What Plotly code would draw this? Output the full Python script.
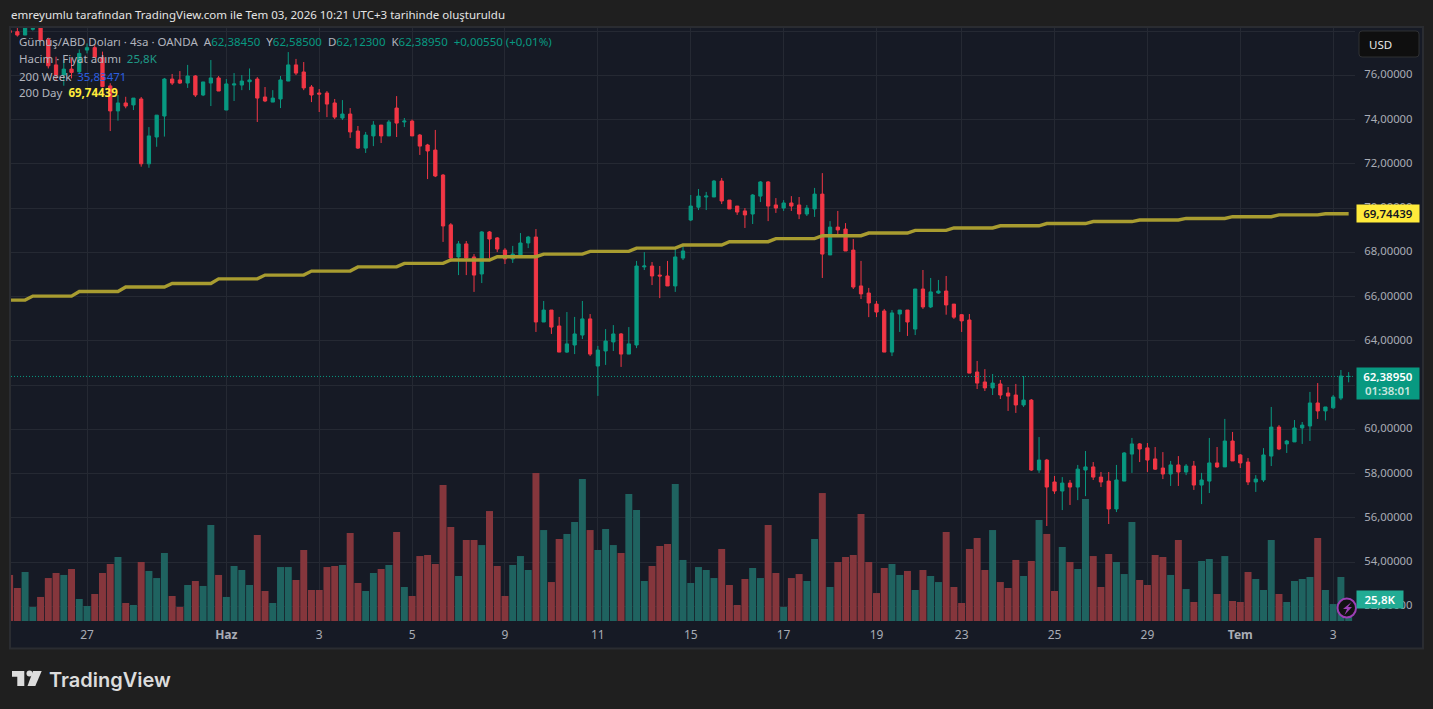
import plotly.graph_objects as go

# Silver / USD, 4h candles, OANDA
opens = [
    78.02,77.97,77.82,78.08,78.30,77.63,76.47,76.01,76.28,76.16,
    77.14,77.25,76.81,75.52,74.39,74.75,74.66,74.93,72.00,73.21,
    74.16,75.83,75.79,75.65,75.97,75.11,75.65,75.88,74.43,75.56,
    75.56,75.71,75.83,75.02,74.79,74.93,75.74,76.47,76.15,75.47,
    75.20,75.20,74.75,74.07,74.25,73.48,72.71,73.26,73.75,73.26,
    74.52,73.89,73.93,73.30,72.85,72.62,71.49,69.24,67.79,68.38,
    67.79,67.02,68.92,68.65,68.10,67.70,67.88,68.42,68.69,64.85,
    65.39,64.67,63.49,63.81,64.26,64.99,62.86,63.54,63.95,64.31,
    63.40,63.81,67.34,67.38,66.97,66.93,66.48,67.74,69.46,70.04,
    70.50,70.50,71.22,70.36,70.09,69.87,69.73,70.54,71.18,70.14,
    70.00,70.23,70.14,69.73,69.96,70.63,67.88,69.14,69.05,68.10,
    66.48,66.16,65.66,65.35,63.49,65.21,65.39,64.53,66.34,65.53,
    66.16,66.25,65.66,65.18,64.94,62.59,62.14,61.87,62.05,61.64,
    61.55,61.10,61.32,58.16,58.61,57.62,57.21,57.57,57.39,58.16,
    58.30,57.84,57.66,56.40,57.66,58.88,59.34,59.16,58.66,58.25,
    57.98,58.39,58.07,58.34,57.48,57.66,58.48,58.30,59.47,58.84,
    58.52,57.62,57.71,58.79,60.10,59.34,59.43,60.06,60.15,61.19,
    60.83,60.97,61.41,62.3845,
]
highs = [
    78.30,78.14,78.30,78.30,78.50,77.70,76.84,76.69,76.77,77.17,
    77.44,77.37,77.07,75.64,75.11,75.03,74.97,75.02,73.66,74.20,
    75.88,76.06,76.19,76.47,76.01,75.70,76.69,75.97,75.83,76.10,
    76.01,76.31,75.92,75.47,75.33,75.97,77.05,76.74,76.60,75.56,
    75.38,75.29,74.93,74.88,74.52,73.71,73.44,73.93,73.75,73.98,
    75.06,74.07,74.00,73.35,72.90,73.53,71.54,69.32,68.51,68.51,
    67.92,68.96,68.96,68.69,68.19,68.29,68.87,68.74,69.05,65.80,
    65.39,65.08,65.30,65.08,65.80,65.21,63.77,64.53,64.71,64.35,
    64.62,67.61,68.01,67.56,67.38,67.61,68.15,68.38,70.59,70.86,
    70.73,71.27,71.36,70.36,70.09,70.00,70.63,71.22,71.22,70.45,
    70.36,70.54,70.50,70.14,70.91,71.58,69.41,69.87,69.32,68.60,
    67.61,66.39,65.80,65.44,65.39,65.39,65.39,66.34,67.20,66.84,
    66.75,66.93,65.66,65.21,65.21,63.09,62.72,62.50,62.23,61.91,
    62.05,62.41,61.37,59.65,58.66,57.89,57.84,57.71,58.39,59.02,
    58.52,58.07,58.07,58.39,58.97,59.61,59.38,59.38,59.20,58.97,
    58.57,58.79,58.43,58.57,58.03,59.61,59.20,60.47,59.88,58.88,
    58.70,57.93,59.15,61.01,60.19,59.52,60.42,60.33,61.69,62.09,
    61.01,61.55,62.68,62.585,
]
lows = [
    77.44,77.75,77.82,78.02,77.57,76.31,75.79,75.53,75.86,76.06,
    76.99,76.81,75.46,73.48,73.95,74.51,74.43,71.87,71.82,72.77,
    73.23,75.56,75.61,75.43,75.02,75.06,74.61,75.29,74.43,74.84,
    75.33,75.33,73.89,74.79,74.79,74.52,75.74,76.01,75.33,74.79,
    74.34,74.11,74.02,73.98,73.17,72.67,72.49,72.80,72.94,73.26,
    73.21,73.66,73.26,72.40,71.31,71.40,68.47,67.56,66.97,66.97,
    66.21,66.61,67.74,68.01,67.47,67.52,67.83,68.19,64.40,64.85,
    64.31,63.49,63.45,63.40,64.08,63.31,61.51,62.91,63.54,62.82,
    63.40,63.67,67.20,66.52,65.93,66.48,66.21,67.65,69.41,69.91,
    69.91,70.50,70.18,69.96,69.69,69.10,69.28,70.27,69.41,69.78,
    69.87,69.87,69.50,69.64,69.60,66.84,67.88,68.78,68.06,66.34,
    65.89,65.07,65.07,63.49,63.31,64.40,64.22,64.26,65.44,65.48,
    66.12,65.18,64.99,64.40,62.54,61.82,61.73,61.55,61.37,60.83,
    60.74,61.01,58.12,58.03,55.63,57.08,56.35,56.58,56.80,56.98,
    57.71,57.39,55.72,56.26,57.66,58.03,58.52,58.07,58.16,57.75,
    57.44,57.44,57.93,57.26,56.62,57.12,58.25,58.30,58.57,58.25,
    57.48,57.17,57.62,58.34,59.06,58.93,59.43,59.34,59.47,60.47,
    60.40,60.92,61.32,62.123,
]
closes = [
    77.93,77.82,78.14,78.12,77.60,76.43,76.01,76.28,76.13,76.99,
    77.25,76.81,75.49,74.39,74.75,74.61,74.97,72.00,73.26,74.20,
    75.83,75.65,75.65,75.97,75.11,75.70,75.88,75.29,75.61,75.61,
    75.74,75.79,74.97,74.84,74.97,75.79,76.47,76.10,75.43,75.11,
    75.15,74.70,74.11,74.25,73.44,72.71,73.30,73.75,73.26,73.89,
    73.84,73.93,73.26,72.80,72.58,71.45,69.19,67.74,68.38,67.74,
    66.97,68.92,68.60,68.15,67.70,67.92,68.42,68.69,64.85,65.39,
    64.62,63.49,63.86,64.31,64.99,63.40,63.58,63.99,64.31,63.40,
    63.86,67.38,67.38,66.93,66.93,66.48,67.79,68.06,70.09,70.54,
    70.54,71.22,70.32,69.96,69.82,69.69,70.59,71.18,70.09,70.00,
    70.23,70.09,69.73,70.00,70.63,67.92,69.14,69.01,68.06,66.43,
    66.12,65.71,65.30,63.49,65.26,65.39,64.85,66.34,65.53,66.21,
    66.25,65.62,65.07,64.90,62.54,62.09,61.87,62.09,61.55,61.50,
    61.10,61.32,58.16,58.61,57.39,57.21,57.57,57.39,58.20,58.30,
    57.84,57.62,56.40,57.71,58.93,59.34,59.11,58.61,58.20,57.98,
    58.39,58.07,58.34,57.48,57.71,58.48,58.30,59.47,58.57,58.48,
    57.62,57.75,58.84,60.10,59.11,59.47,60.06,60.19,61.19,60.83,
    61.01,61.46,62.41,62.3895,
]
# Volume per candle, thousands
volumes = [
    54.0,38.7,57.5,16.4,28.2,50.4,56.3,54.0,61.0,25.8,
    17.6,31.7,56.3,66.9,75.1,21.1,18.8,69.2,58.7,50.4,
    79.8,29.3,16.4,42.2,46.9,41.1,112.6,54.0,28.2,64.5,
    59.8,42.2,100.9,35.2,21.1,63.3,63.3,48.1,83.3,36.4,
    36.4,63.3,64.5,65.7,103.2,44.6,35.2,56.3,61.0,65.7,
    104.4,39.9,29.3,76.2,77.4,66.9,159.5,110.3,52.8,95.0,
    95.0,89.1,129.0,64.5,29.3,65.7,76.2,59.8,173.6,106.7,
    45.7,96.2,102.1,116.1,166.6,106.7,83.3,107.9,89.1,79.8,
    149.0,130.2,46.9,64.5,88.0,90.3,160.7,71.6,44.6,63.3,
    59.8,50.4,84.5,42.2,18.8,49.3,62.2,50.4,112.6,56.3,
    16.4,50.4,55.1,46.9,96.2,150.1,39.9,69.2,75.1,77.4,
    125.5,69.2,32.8,62.2,66.9,54.0,58.7,36.4,59.8,52.8,
    45.7,104.4,39.9,21.1,84.5,97.4,59.8,106.7,45.7,38.7,
    71.6,52.8,70.4,118.5,102.1,35.2,86.8,69.2,61.0,143.1,
    76.2,39.9,78.6,69.2,55.1,116.1,48.1,42.2,77.4,75.1,
    54.0,95.0,37.5,22.3,70.4,72.7,31.7,76.2,23.5,22.3,
    57.5,49.3,36.4,95.0,31.7,22.3,46.9,49.3,51.6,97.4,
    36.4,19.9,51.6,25.8,
]
# 200-day average: one level per daily close
ma_200_day = (
    [65.84]*3 + [66.02]*6 + [66.23]*6 + [66.43]*6 + [66.59]*6 + [66.80]*6 +
    [66.97]*6 + [67.15]*6 + [67.34]*6 + [67.50]*6 + [67.65]*6 + [67.80]*6 +
    [67.92]*6 + [68.04]*6 + [68.19]*6 + [68.33]*6 + [68.48]*6 + [68.62]*6 +
    [68.75]*6 + [68.87]*6 + [68.99]*5 + [69.10]*6 + [69.20]*6 + [69.30]*6 +
    [69.39]*6 + [69.46]*6 + [69.53]*6 + [69.61]*6 + [69.69]*6 + [69.74439]*4
)
candle_index = list(range(len(closes)))

date_ticks = [10, 28, 40, 52, 64, 76, 88, 100, 112, 123, 135, 147, 159, 171]
date_labels = ["27", "<b>Haz</b>", "3", "5", "9", "11", "15", "17", "19", "23", "25", "29", "<b>Tem</b>", "3"]
price_ticks = [52, 54, 56, 58, 60, 62, 64, 66, 68, 70, 72, 74, 76, 78]
price_labels = ["52,00000", "54,00000", "56,00000", "58,00000", "60,00000", "62,00000", "64,00000",
                "66,00000", "68,00000", "70,00000", "72,00000", "74,00000", "76,00000", ""]

UP = "#089981"
DOWN = "#f23645"
UP_VOL = "#1f6360"
DOWN_VOL = "#85363c"
PAGE = "#1f1f1f"
PANE = "#161a25"
GRID = "#252933"
AXIS_TEXT = "#a9acb5"
LEGEND_TEXT = "#b2b5be"
FONT = "Noto Sans"

WIDTH, HEIGHT = 1433, 709
LEFT, RIGHT, TOP, BOTTOM = 11, 1355, 28, 621


def fx(px):
    return (px - LEFT) / (RIGHT - LEFT)


def fy(px):
    return (BOTTOM - px) / (BOTTOM - TOP)


def path_from(points):
    return "M " + " L ".join(f"{fx(x)},{fy(y)}" for x, y in points) + " Z"


fig = go.Figure()
fig.add_trace(go.Bar(
    x=candle_index, y=volumes, yaxis="y",
    marker=dict(color=[UP_VOL if c >= o else DOWN_VOL for o, c in zip(opens, closes)], line=dict(width=0)),
    hoverinfo="skip", showlegend=False,
))
fig.add_trace(go.Scatter(
    x=candle_index, y=ma_200_day, yaxis="y2", mode="lines",
    line=dict(color="#a89c30", width=3.4), hoverinfo="skip", showlegend=False,
))
fig.add_trace(go.Candlestick(
    x=candle_index, open=opens, high=highs, low=lows, close=closes, yaxis="y2",
    increasing=dict(line=dict(color=UP, width=1), fillcolor=UP),
    decreasing=dict(line=dict(color=DOWN, width=1), fillcolor=DOWN),
    whiskerwidth=0, hoverinfo="skip", showlegend=False,
))

shapes = [
    # pane background with its frame
    dict(type="rect", xref="paper", yref="paper", layer="below",
         x0=fx(10), x1=fx(1423), y0=fy(27), y1=fy(648.5),
         fillcolor=PANE, line=dict(color="#2a2c31", width=2)),
    # last price line
    dict(type="line", xref="paper", yref="y2", layer="above",
         x0=0, x1=1, y0=closes[-1], y1=closes[-1],
         line=dict(color=UP, width=1, dash="1px,2px")),
    # currency button
    dict(type="path", xref="paper", yref="paper", layer="above",
         path=(f"M {fx(1362)},{fy(31)} L {fx(1416)},{fy(31)} Q {fx(1419)},{fy(31)} {fx(1419)},{fy(34)} "
               f"L {fx(1419)},{fy(54)} Q {fx(1419)},{fy(57)} {fx(1416)},{fy(57)} L {fx(1362)},{fy(57)} "
               f"Q {fx(1359)},{fy(57)} {fx(1359)},{fy(54)} L {fx(1359)},{fy(34)} Q {fx(1359)},{fy(31)} {fx(1362)},{fy(31)} Z"),
         fillcolor="#0f0f0f", line=dict(color="#2f3033", width=1)),
    # alert badge
    dict(type="circle", xref="paper", yref="paper", layer="above",
         x0=fx(1337.5), x1=fx(1356), y0=fy(598.5), y1=fy(617.5),
         fillcolor="#121212", line=dict(color="#9c3fb5", width=2)),
    dict(type="path", xref="paper", yref="paper", layer="above",
         path=path_from([(1351.5, 602), (1343, 609), (1347, 609), (1344.5, 615), (1352, 607), (1348, 607)]),
         fillcolor="#9c3fb5", line=dict(width=0)),
    # logo mark
    dict(type="path", xref="paper", yref="paper", layer="above",
         path=path_from([(12, 671), (24.3, 671), (24.3, 686), (17.3, 686), (17.3, 676.7), (12, 676.7)]),
         fillcolor="#dcdcdc", line=dict(width=0)),
    dict(type="circle", xref="paper", yref="paper", layer="above",
         x0=fx(26.5), x1=fx(32.5), y0=fy(670.5), y1=fy(676.5),
         fillcolor="#dcdcdc", line=dict(width=0)),
    dict(type="path", xref="paper", yref="paper", layer="above",
         path=path_from([(33, 671), (41.7, 671), (35.3, 686), (27.5, 686)]),
         fillcolor="#dcdcdc", line=dict(width=0)),
]


def label(px_x, px_y, text, size=11.5, color=LEGEND_TEXT, weight=None, family=FONT):
    font = dict(family=family, size=size, color=color)
    if weight:
        font["weight"] = weight
    return dict(xref="paper", yref="paper", x=fx(px_x), y=fy(px_y), text=text, showarrow=False,
                xanchor="left", yanchor="middle", align="left", font=font, borderpad=0)


def tag(px_x, width, height, yref, y, text, bg, color, yshift=0):
    return dict(xref="paper", yref=yref, x=fx(px_x), y=y, text=text, showarrow=False, xanchor="left",
                yanchor="middle", align="center", width=width, height=height, bgcolor=bg, borderpad=0,
                yshift=yshift, font=dict(family=FONT, size=11.5, color=color, weight=600))


g = f'<span style="color:{UP}">'
annotations = [
    label(10, 15, "emreyumlu tarafından TradingView.com ile Tem 03, 2026 10:21 UTC+3 tarihinde oluşturuldu",
          color="#e4e4e4"),
    label(17.5, 41.5, f"Gümüş/ABD Doları · 4sa · OANDA  A{g}62,38450</span>  Y{g}62,58500</span>  "
                      f"D{g}62,12300</span>  K{g}62,38950</span>  {g}+0,00550 (+0,01%)</span>"),
    label(17.5, 59, 'Hacim · Fiyat adımı  <span style="color:#1f9b88">25,8K</span>'),
    label(17.5, 76, '200 Week  <span style="color:#2b5fe0">35,83471</span>'),
    label(17.5, 92.5, '200 Day  <span style="color:#ffeb3b"><b>69,74439</b></span>'),
    label(1368, 44.5, "USD", size=11.5, color="#e6e6e6"),
    tag(1356, 62, 17, "y2", ma_200_day[-1], "69,74439", "#ffeb3b", "#131722"),
    tag(1356, 62, 31, "y2", closes[-1],
        '62,38950<br><span style="color:#c8e6df">01:38:01</span>', UP, "#ffffff", yshift=-7),
    tag(1356, 46, 17, "paper", fy(599), "25,8K", "#22ab94", "#ffffff"),
    label(48, 680, "TradingView", size=20, color="#dcdcdc", weight=600, family="Inter"),
]

fig.update_layout(
    width=WIDTH, height=HEIGHT, autosize=False,
    margin=dict(l=LEFT, r=WIDTH - RIGHT, t=TOP, b=HEIGHT - BOTTOM, pad=0),
    paper_bgcolor=PAGE, plot_bgcolor="rgba(0,0,0,0)",
    bargap=0.1, boxgap=0.4, showlegend=False,
    font=dict(family=FONT, size=12, color=AXIS_TEXT),
    xaxis=dict(
        type="linear", range=[0.18, 173.82], tickmode="array", tickvals=date_ticks, ticktext=date_labels,
        showgrid=True, gridcolor=GRID, gridwidth=1, zeroline=False, showline=False,
        rangeslider=dict(visible=False), ticks="outside", ticklen=3, tickcolor="rgba(0,0,0,0)",
        tickfont=dict(family=FONT, size=12, color=AXIS_TEXT), automargin=False,
    ),
    yaxis=dict(range=[0, 695.6], visible=False, showgrid=False, zeroline=False, fixedrange=True),
    yaxis2=dict(
        overlaying="y", side="right", anchor="x", range=[51.336, 78.138], tickmode="array",
        tickvals=price_ticks, ticktext=price_labels, showgrid=True, gridcolor=GRID, gridwidth=1,
        zeroline=False, showline=False, ticks="outside", ticklen=6, tickcolor="rgba(0,0,0,0)",
        tickfont=dict(family=FONT, size=11.3, color=AXIS_TEXT), automargin=False, ticklabelshift=-1,
    ),
    shapes=shapes, annotations=annotations,
)

fig.write_html("out.html", config=dict(displayModeBar=False))
